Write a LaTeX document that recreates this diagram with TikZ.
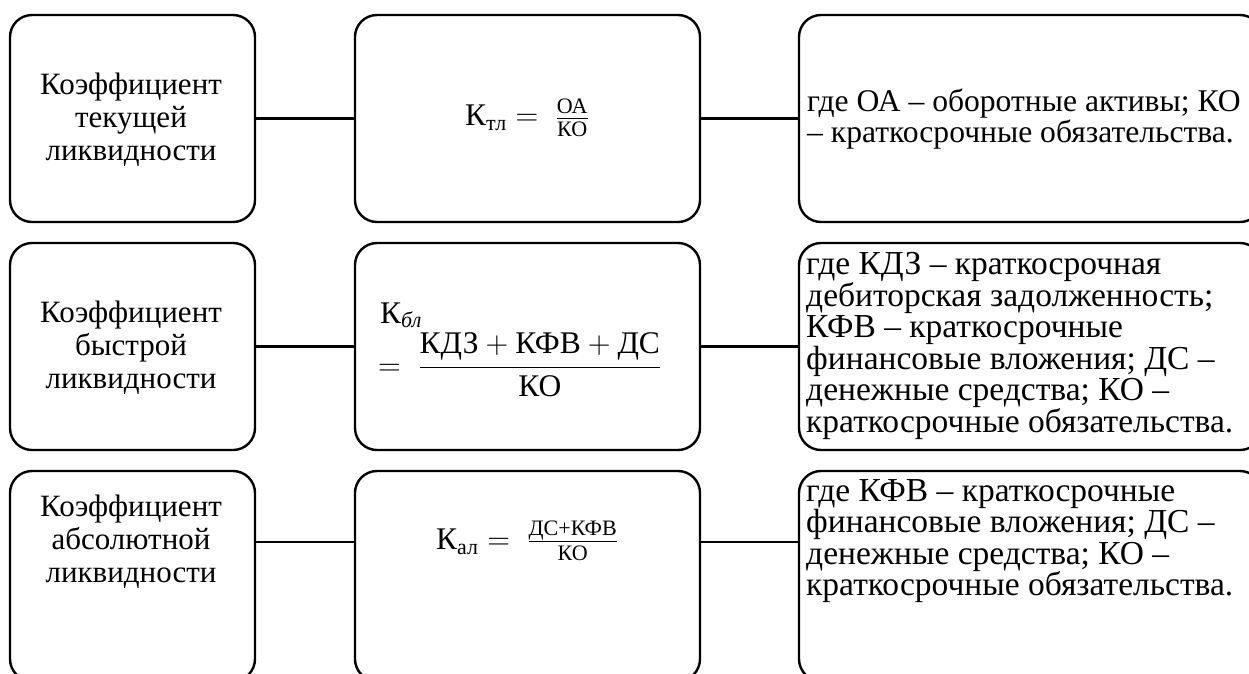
\RequirePackage{fix-cm}
\documentclass[tikz,border=0pt]{standalone}
\usepackage{amsmath}
\usepackage{fontspec}
\setmainfont{Liberation Serif}
\begin{document}
\begin{tikzpicture}[x=1pt,y=-1pt,
  box/.style={draw, line width=2.4pt, rounded corners=22pt, inner sep=0pt},
  conn/.style={draw, line width=2.4pt},
  lbl/.style={align=center, inner sep=0pt, font=\fontsize{31}{33}\selectfont},
  rtxt/.style={align=left, inner sep=0pt, anchor=west, font=\fontsize{33.5}{31.6}\selectfont},
  rtxtA/.style={align=left, inner sep=0pt, anchor=west, font=\fontsize{31.6}{30.5}\selectfont},
  frm/.style={inner sep=0pt, font=\fontsize{31.5}{34}\selectfont}]
\useasboundingbox (0,0) rectangle (1249,673);
% boxes
\node[box, minimum width=245pt, minimum height=207pt] (L1) at (132.5,118.5) {};
\node[box, minimum width=345pt, minimum height=207pt] (M1) at (527.5,118.5) {};
\node[box, minimum width=463pt, minimum height=207pt] (R1) at (1030.5,118.5) {};
\node[box, minimum width=245pt, minimum height=207pt] (L2) at (132.5,346.5) {};
\node[box, minimum width=345pt, minimum height=207pt] (M2) at (527.5,346.5) {};
\node[box, minimum width=463pt, minimum height=207pt] (R2) at (1030.5,346.5) {};
\node[box, minimum width=245pt, minimum height=210pt] (L3) at (132.5,576) {};
\node[box, minimum width=345pt, minimum height=210pt] (M3) at (527.5,576) {};
\node[box, minimum width=463pt, minimum height=210pt] (R3) at (1030.5,576) {};
% left texts
\node[lbl] (Lt1) at (131,120) {Коэффициент\\текущей\\ликвидности};
\node[lbl] (Lt2) at (131,348) {Коэффициент\\быстрой\\ликвидности};
\node[lbl] (Lt3) at (131,542) {Коэффициент\\абсолютной\\ликвидности};
% formulas
\node[frm] (F1) at (527,118) {$\text{К}_{\text{тл}} = \;\tfrac{\text{ОА}}{\text{КО}}$};
\node[frm, anchor=base west] (F2a) at (380,323) {$\text{К}_{\textit{бл}}$};
\node[frm, anchor=base west] (F2b) at (378,375) {$= \;\dfrac{\text{КДЗ} + \text{КФВ} + \text{ДС}}{\text{КО}}$};
\node[frm] (F3) at (527,541) {$\text{К}_{\text{ал}} = \;\tfrac{\text{ДС+КФВ}}{\text{КО}}$};
% right texts
\node[rtxtA] (Rt1) at (807,119) {где ОА – оборотные активы; КО\\– краткосрочные обязательства.};
\node[rtxt] (Rt2) at (806,346) {где КДЗ – краткосрочная\\дебиторская задолженность;\\КФВ – краткосрочные\\финансовые вложения; ДС –\\денежные средства; КО –\\краткосрочные обязательства.};
\node[rtxt] (Rt3) at (806,541) {где КФВ – краткосрочные\\финансовые вложения; ДС –\\денежные средства; КО –\\краткосрочные обязательства.};
% connectors
\draw[conn] (L1.east) -- (M1.west);
\draw[conn] (M1.east) -- (R1.west);
\draw[conn] (L2.east) -- (M2.west);
\draw[conn] (M2.east) -- (R2.west);
\draw[conn] (L3.east |- Lt3.center) -- (M3.west |- Lt3.center);
\draw[conn] (M3.east |- Lt3.center) -- (R3.west |- Lt3.center);
\end{tikzpicture}
\end{document}
